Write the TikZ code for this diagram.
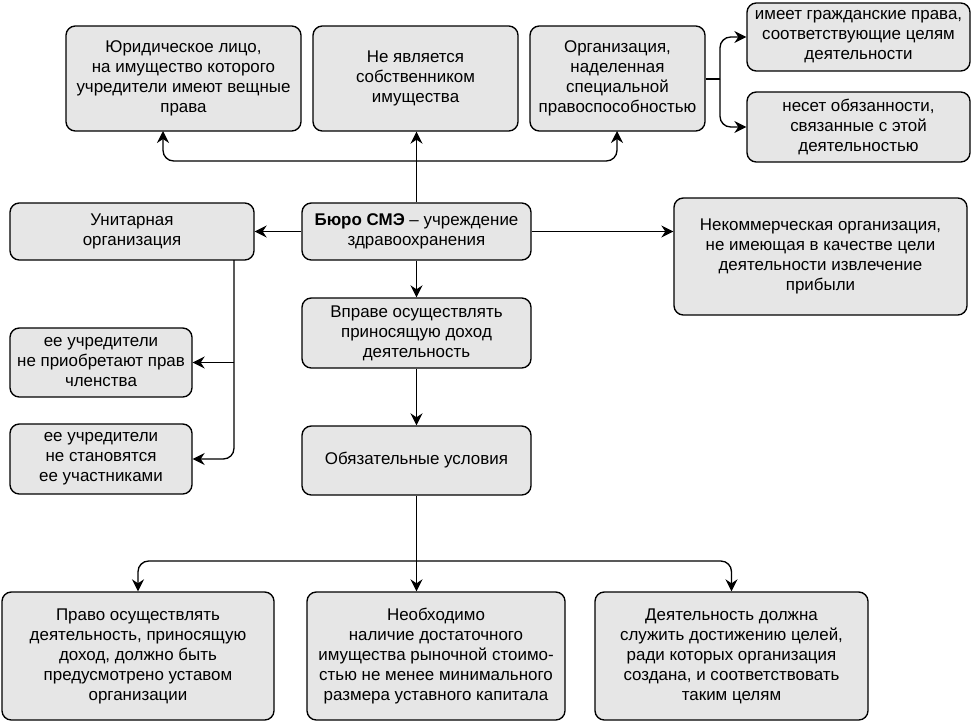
\documentclass[tikz,border=0pt]{standalone}
\usepackage{fontspec}
\setmainfont{Liberation Sans}
\usetikzlibrary{arrows.meta}
\definecolor{boxfill}{HTML}{E6E6E6}
\newcommand\bx[6]{\node[box, minimum width={(#4-#2)*0.75pt}, minimum height={(#5-#3)*0.75pt}] (#1) at ({(#2+#4)/2},{(#3+#5)/2}) {#6};}
\begin{document}
\begin{tikzpicture}[x=0.75pt,y=-0.75pt,
  box/.style={draw=black, line width=1pt, fill=boxfill, rounded corners=7pt, align=center, inner sep=0pt,
    font=\fontsize{12.7pt}{15pt}\selectfont},
  arr/.style={draw=black, line width=1pt, -{Stealth[length=9pt,width=9pt,inset=3pt]}},
  ln/.style={draw=black, line width=1pt}]
\useasboundingbox (0,0) rectangle (971,721);
\bx{jur}{66}{26}{301}{131}{Юридическое лицо,\\ на имущество которого\\ учредители имеют вещные\\ права}
\bx{ne}{313}{26}{518}{131}{Не является\\ собственником\\ имущества}
\bx{org}{530}{26}{705}{131}{Организация,\\ наделенная\\ специальной\\ правоспособностью}
\bx{grp}{747}{3}{970}{71}{имеет гражданские права,\\ соответствующие целям\\ деятельности}
\bx{obz}{747}{92}{970}{162}{несет обязанности,\\ связанные с этой\\ деятельностью}
\bx{buro}{302}{203}{531}{260}{\textbf{Бюро СМЭ} – учреждение\\ здравоохранения}
\bx{unit}{10}{203}{254}{260}{Унитарная\\ организация}
\bx{nk}{674}{198}{967}{315}{Некоммерческая организация,\\ не имеющая в качестве цели\\ деятельности извлечение\\ прибыли}
\bx{vp}{302}{298}{531}{368}{Вправе осуществлять\\ приносящую доход\\ деятельность}
\bx{ob}{302}{426}{531}{495}{Обязательные условия}
\bx{pr}{10}{328}{192}{397}{ее учредители\\ не приобретают прав\\ членства}
\bx{st}{10}{424}{192}{494}{ее учредители\\ не становятся\\ ее участниками}
\bx{pa}{2}{592}{274}{720}{Право осуществлять\\ деятельность, приносящую\\ доход, должно быть\\ предусмотрено уставом\\ организации}
\bx{pb}{307}{592}{565}{720}{Необходимо\\ наличие достаточного\\ имущества рыночной стоимо-\\ стью не менее минимального\\ размера уставного капитала}
\bx{pc}{595}{592}{868}{720}{Деятельность должна\\ служить достижению целей,\\ ради которых организация\\ создана, и соответствовать\\ таким целям}
% coordinates
\coordinate (tj) at (416.5,161);
\coordinate (jt) at (163,131);
\coordinate (ot) at (617,131);
\coordinate (oj) at (720,79);
\coordinate (ut) at (234,260);
\coordinate (bj) at (416.5,561);
% top
\draw[arr] (buro.north) -- (buro.north |- ne.south);
\draw[arr, rounded corners=8pt] (tj) -| (jt);
\draw[arr, rounded corners=8pt] (tj) -| (ot);
\draw[ln] (org.east |- oj) -- (oj);
\draw[arr, rounded corners=8pt] (oj) |- (grp.west);
\draw[arr, rounded corners=8pt] (oj) |- (obz.west);
% middle
\draw[arr] (buro.west) -- (unit.east);
\draw[arr] (buro.east) -- (buro.east -| nk.west);
\draw[arr] (buro.south) -- (vp.north);
\draw[arr] (vp.south) -- (ob.north);
\draw[arr, rounded corners=8pt] (ut) |- (st.east);
\draw[arr] (ut |- pr.east) -- (pr.east);
% bottom
\draw[arr] (ob.south) -- (ob.south |- pb.north);
\draw[arr, rounded corners=8pt] (bj) -| (pa.north);
\draw[arr, rounded corners=8pt] (bj) -| (pc.north);
\end{tikzpicture}
\end{document}
